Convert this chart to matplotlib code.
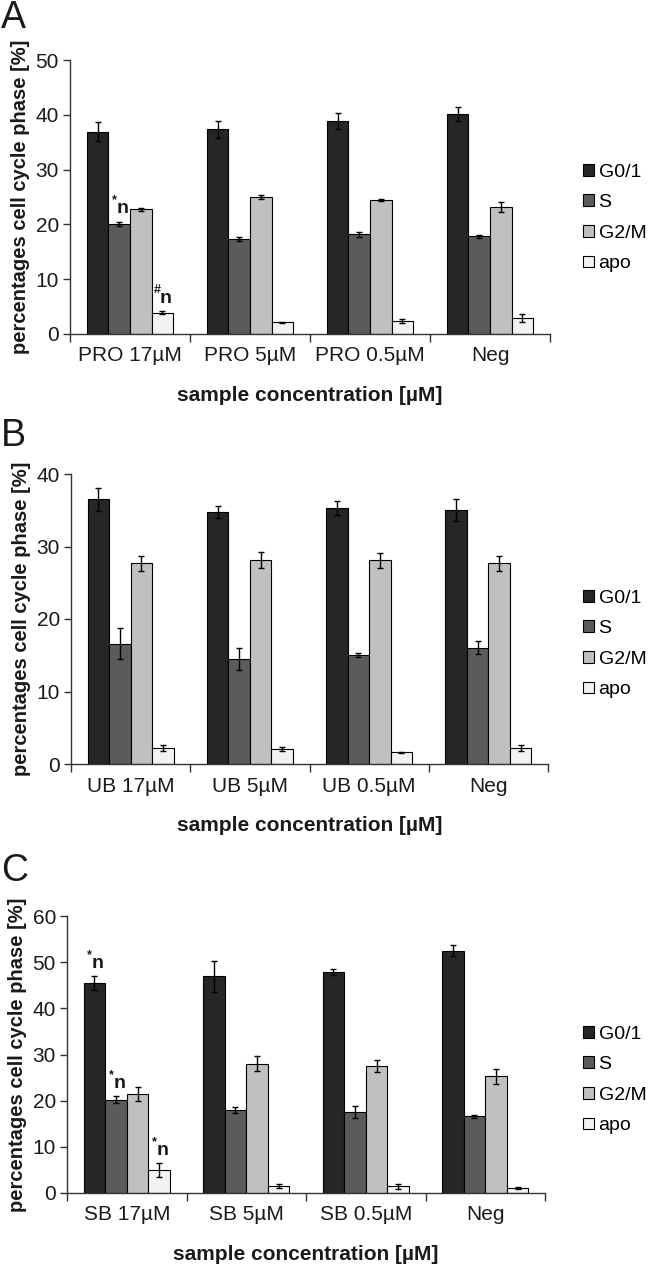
import numpy as np
import matplotlib
matplotlib.use("Agg")
import matplotlib.pyplot as plt
from matplotlib.patches import Patch

plt.rcParams['font.family'] = ['Liberation Sans', 'DejaVu Sans']

phases = ["G0/1", "S", "G2/M", "apo"]
colors = ["#262626", "#5b5b5b", "#c0c0c0", "#f2f2f2"]

# panel A - PRO
cats_a = ["PRO 17µM", "PRO 5µM", "PRO 0.5µM", "Neg"]
g01_a = [36.9, 37.35, 38.9, 40.2]
s_a = [20.1, 17.3, 18.2, 17.8]
g2m_a = [22.75, 25.0, 24.4, 23.2]
apo_a = [3.9, 2.1, 2.4, 2.9]
g01_a_err = [1.7, 1.6, 1.45, 1.3]
s_a_err = [0.4, 0.35, 0.45, 0.35]
g2m_a_err = [0.3, 0.3, 0.15, 0.9]
apo_a_err = [0.3, 0.1, 0.35, 0.7]

# panel B - UB
cats_b = ["UB 17µM", "UB 5µM", "UB 0.5µM", "Neg"]
g01_b = [36.5, 34.8, 35.3, 35.0]
s_b = [16.6, 14.45, 15.0, 16.05]
g2m_b = [27.7, 28.2, 28.1, 27.7]
apo_b = [2.25, 2.1, 1.6, 2.25]
g01_b_err = [1.6, 0.8, 0.95, 1.55]
s_b_err = [2.15, 1.5, 0.25, 0.85]
g2m_b_err = [1.05, 1.1, 1.05, 1.05]
apo_b_err = [0.4, 0.25, 0.1, 0.4]

# panel C - SB
cats_c = ["SB 17µM", "SB 5µM", "SB 0.5µM", "Neg"]
g01_c = [45.4, 46.9, 47.8, 52.45]
s_c = [20.2, 18.05, 17.6, 16.6]
g2m_c = [21.4, 28.0, 27.55, 25.25]
apo_c = [4.9, 1.45, 1.45, 1.1]
g01_c_err = [1.5, 3.4, 0.65, 1.2]
s_c_err = [0.8, 0.65, 1.3, 0.35]
g2m_c_err = [1.5, 1.65, 1.3, 1.65]
apo_c_err = [1.5, 0.45, 0.5, 0.3]

W, H = 650, 1271
fig = plt.figure(figsize=(6.5, 12.71), dpi=100)

bw = 0.18
txt = "#1a1a1a"


def mark(ax, x, y, sym):
    # significance mark like "*n" with the symbol raised
    ax.annotate("n", (x, y), xytext=(2.5, 3), textcoords="offset points",
                ha="center", va="bottom", fontsize=14, fontweight="bold", color=txt)
    ax.annotate(sym, (x, y), xytext=(-3.5, 11), textcoords="offset points",
                ha="center", va="bottom", fontsize=9, fontweight="bold", color=txt)


def panel(rect, cats, series, errs, ymax, letter, letter_y, legend_y, marks):
    ax = fig.add_axes(rect)
    x = np.arange(len(cats))
    for i, (vals, err) in enumerate(zip(series, errs)):
        ax.bar(x + (i - 1.5) * bw, vals, bw, color=colors[i], edgecolor="black",
               linewidth=0.8, yerr=err, capsize=2.5,
               error_kw=dict(elinewidth=1, capthick=1, ecolor="black"), zorder=2)
    for ci, si, sym in marks:
        top = series[si][ci] + errs[si][ci]
        mark(ax, x[ci] + (si - 1.5) * bw, top, sym)
    ax.set_xlim(-0.5, len(cats) - 0.5)
    ax.set_ylim(0, ymax)
    ax.set_yticks(np.arange(0, ymax + 1, 10))
    ax.set_xticks(np.arange(-0.5, len(cats), 1.0))
    ax.set_xticklabels([])
    ax.set_xticks(x, minor=True)
    ax.set_xticklabels(cats, minor=True, fontsize=15, color=txt)
    ax.tick_params(axis="x", which="minor", length=0, pad=9)
    ax.tick_params(axis="x", which="major", length=6, width=1, color="#333333")
    ax.tick_params(axis="y", length=5, width=1, color="#333333", labelsize=15,
                   labelcolor=txt, pad=3)
    for side in ["top", "right"]:
        ax.spines[side].set_visible(False)
    for side in ["left", "bottom"]:
        ax.spines[side].set_color("#333333")
        ax.spines[side].set_linewidth(1)
    ax.set_xlabel("sample concentration [µM]", fontsize=15, fontweight="bold",
                  color=txt, labelpad=15)
    ax.set_ylabel("percentages cell cycle phase [%]", fontsize=14.5,
                  fontweight="bold", color=txt, labelpad=4)
    fig.text(0.002, letter_y, letter, fontsize=27, ha="left", va="top", color=txt)
    handles = [Patch(facecolor=c, edgecolor="black", linewidth=0.8) for c in colors]
    ax.legend(handles, phases, loc="center left", bbox_to_anchor=(0.897, legend_y),
              bbox_transform=fig.transFigure, frameon=False, fontsize=14,
              handlelength=0.55, handleheight=0.55, handletextpad=0.25,
              labelspacing=0.7, borderpad=0, borderaxespad=0)
    return ax


def rect(x0, x1, ytop, ybot):
    return [x0 / W, 1 - ybot / H, (x1 - x0) / W, (ybot - ytop) / H]


panel(rect(70, 550, 60, 334), cats_a, [g01_a, s_a, g2m_a, apo_a],
      [g01_a_err, s_a_err, g2m_a_err, apo_a_err], 50, "A", 1 - 0 / H,
      1 - 218 / H, [(0, 1, "*"), (0, 3, "#")])
panel(rect(71, 548, 474, 764), cats_b, [g01_b, s_b, g2m_b, apo_b],
      [g01_b_err, s_b_err, g2m_b_err, apo_b_err], 40, "B", 1 - 418 / H,
      1 - 644 / H, [])
panel(rect(67, 545, 916, 1193), cats_c, [g01_c, s_c, g2m_c, apo_c],
      [g01_c_err, s_c_err, g2m_c_err, apo_c_err], 60, "C", 1 - 853 / H,
      1 - 1080 / H, [(0, 0, "*"), (0, 1, "*"), (0, 3, "*")])

fig.savefig("out.png", dpi=100, facecolor="white")
